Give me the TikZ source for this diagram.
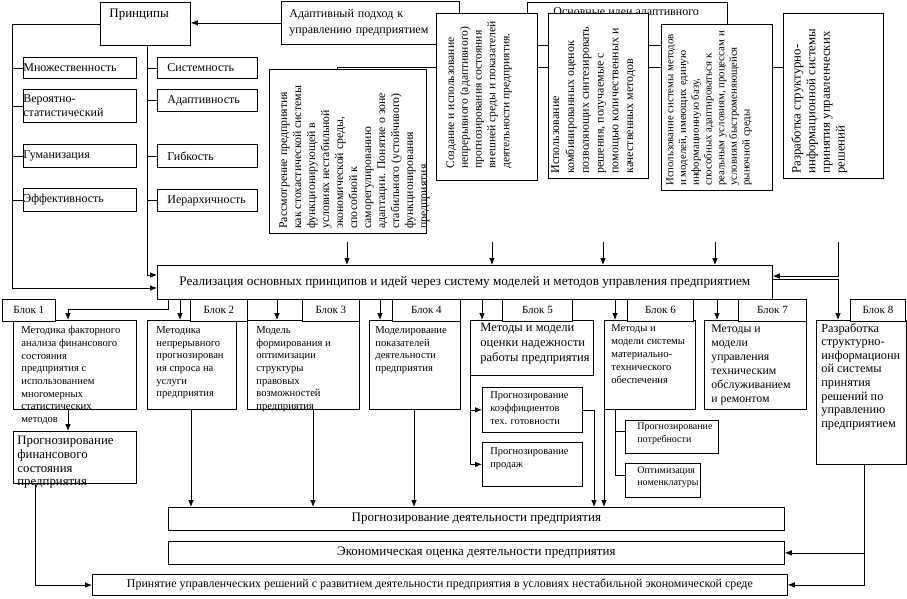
\documentclass[tikz,border=0pt]{standalone}
\usepackage{fontspec}
\setmainfont{Liberation Serif}
\usetikzlibrary{arrows.meta,positioning,backgrounds}

\begin{document}
\begin{tikzpicture}[x=1pt,y=-1pt,line width=0.75pt,>={Latex[length=7pt,width=5.5pt]},
	box/.style={draw,fill=white,inner sep=0pt,anchor=north west},
	sz/.style 2 args={minimum width=#1pt,minimum height=#2pt},
	txt/.style={anchor=north west,align=left,inner sep=0pt},
	vtxt/.style={rotate=90,anchor=north west,align=left,inner sep=0pt},
	lp/.style={box,sz={113}{#1},text width=113pt,align=left,font=\fontsize{12}{14}\selectfont},
	rp/.style={box,sz={100}{#1},text width=80pt,inner xsep=10pt,align=left,font=\fontsize{12}{14}\selectfont},
	lbl/.style={box,sz={#1}{22},font=\fontsize{11}{13}\selectfont},
	wide/.style={box,sz={#1}{23},font=\fontsize{13}{15}\selectfont}]
	\useasboundingbox (0,0) rectangle (907,598);

	% principles
	\node[box,sz={90}{43}] (prin) at (100,2) {};
	\node[txt,font=\fontsize{13}{15}\selectfont] (print) at (109,9) {Принципы};
	\node[lp=21] (mnozh) at (23,57) {Множественность};
	\node[lp=33] (ver) at (23,89) {Вероятно-\\статистический};
	\node[lp=23] (gum) at (23,144) {Гуманизация};
	\node[lp=23] (eff) at (23,188) {Эффективность};
	\node[rp=21] (sist) at (157,57) {Системность};
	\node[rp=22] (adpt) at (157,89) {Адаптивность};
	\node[rp=23] (gib) at (157,144) {Гибкость};
	\node[rp=22] (ier) at (157,189) {Иерархичность};

	% adaptive approach and main ideas
	\node[box,sz={178}{43},text width=162pt,inner xsep=8pt,align=left,
	font=\fontsize{12}{16}\selectfont] (adapt) at (281,1) {Адаптивный подход к\\управлению предприятием};
	\node[box,sz={200}{43}] (osn) at (527,2) {};
	\node[txt,font=\fontsize{12}{14}\selectfont] (osnt) at (553,7) {Основные идеи адаптивного};

	\node[box,sz={157}{164}] (rassm) at (269,69) {};
	\node[vtxt,font=\fontsize{11.8}{14}\selectfont] (rassmt) at (279,229)
	{Рассмотрение предприятия\\как стохастической системы\\функционирующей в\\условиях нестабильной\\экономической среды,\\способной к\\саморегулированию\\адаптации. Понятие о зоне\\стабильного (устойчивого)\\функционирования\\предприятия.};
	\node[box,sz={101}{167}] (sozd) at (436,13) {};
	\node[vtxt,font=\fontsize{11.6}{13.8}\selectfont] (sozdt) at (446,169)
	{Создание и использование\\непрерывного (адаптивного)\\прогнозирования состояния\\внешней среды и показателей\\деятельности предприятия.};
	\node[box,sz={100}{165}] (komb) at (548,13) {};
	\node[vtxt,font=\fontsize{12}{14.8}\selectfont] (kombt) at (551,174)
	{Использование\\комбинированных оценок\\позволяющих синтезировать\\решения, получаемые с\\помощью количественных и\\качественных методов};
	\node[box,sz={111}{166}] (metod) at (661,24) {};
	\node[vtxt,font=\fontsize{10.8}{12.7}\selectfont] (metodt) at (666,186)
	{Использование системы методов\\и моделей, имеющих единую\\информационную базу,\\способных адаптироваться к\\реальным условиям, процессам и\\условиям быстроменяющейся\\рыночной среды};
	\node[box,sz={100}{165}] (razr) at (783,13) {};
	\node[vtxt,font=\fontsize{12.8}{14.7}\selectfont] (razrt) at (791,174)
	{Разработка структурно-\\информационной системы\\принятия управленческих\\решений};

	% realisation
	\node[box,sz={615}{34},font=\fontsize{13.2}{15}\selectfont] (real) at (157,265)
	{Реализация основных принципов и идей через систему моделей и методов управления предприятием};

	% blocks
	\node[box,sz={123}{89}] (blk1) at (13,320) {};
	\node[txt,font=\fontsize{10.6}{12.7}\selectfont] (blk1t) at (21,326)
	{Методика факторного\\анализа финансового\\состояния\\предприятия с\\использованием\\многомерных\\статистических\\методов};
	\node[box,sz={89}{89}] (blk2) at (147,320) {};
	\node[txt,font=\fontsize{10.6}{12.7}\selectfont] (blk2t) at (156,326)
	{Методика\\непрерывного\\прогнозирован\\ия спроса на\\услуги\\предприятия};
	\node[box,sz={112}{89}] (blk3) at (247,320) {};
	\node[txt,font=\fontsize{10.6}{12.7}\selectfont] (blk3t) at (256,326)
	{Модель\\формирования и\\оптимизации\\структуры\\правовых\\возможностей\\предприятия};
	\node[box,sz={91}{89}] (blk4) at (369,320) {};
	\node[txt,font=\fontsize{10.6}{12.7}\selectfont] (blk4t) at (375,326)
	{Моделирование\\показателей\\деятельности\\предприятия};
	\node[box,sz={123}{55}] (blk5) at (470,320) {};
	\node[txt,font=\fontsize{12.5}{15}\selectfont] (blk5t) at (480,323)
	{Методы и модели\\оценки надежности\\работы предприятия};
	\node[box,sz={91}{89}] (blk6) at (604,320) {};
	\node[txt,font=\fontsize{10.6}{13}\selectfont] (blk6t) at (611,324)
	{Методы и\\модели системы\\материально-\\технического\\обеспечения};
	\node[box,sz={102}{89}] (blk7) at (704,320) {};
	\node[txt,font=\fontsize{11.8}{14}\selectfont] (blk7t) at (711,324)
	{Методы и\\модели\\управления\\техническим\\обслуживанием\\и ремонтом};
	\node[box,sz={90}{144}] (blk8) at (816,320) {};
	\node[txt,font=\fontsize{12.3}{13.6}\selectfont] (blk8t) at (821,323)
	{Разработка\\структурно-\\информационн\\ой системы\\принятия\\решений по\\управлению\\предприятием};

	\node[lbl=53] (lab1) at (2,299) {Блок 1};
	\node[lbl=57] (lab2) at (190,299) {Блок 2};
	\node[lbl=57] (lab3) at (302,299) {Блок 3};
	\node[lbl=68] (lab4) at (392,299) {Блок 4};
	\node[lbl=70] (lab5) at (502,299) {Блок 5};
	\node[lbl=66] (lab6) at (627,299) {Блок 6};
	\node[lbl=68] (lab7) at (738,299) {Блок 7};
	\node[lbl=55] (lab8) at (850,299) {Блок 8};

	% sub-boxes
	\node[box,sz={123}{52}] (fin) at (13,431) {};
	\node[txt,font=\fontsize{12.8}{13.7}\selectfont] (fint) at (17,436)
	{Прогнозирование\\финансового\\состояния\\предприятия};
	\node[box,sz={100}{45}] (coef) at (482,387) {};
	\node[txt,font=\fontsize{10.4}{13}\selectfont] (coeft) at (490,391)
	{Прогнозирование\\коэффициентов\\тех. готовности};
	\node[box,sz={100}{44}] (sales) at (482,442) {};
	\node[txt,font=\fontsize{10.4}{13}\selectfont] (salest) at (490,447)
	{Прогнозирование\\продаж};
	\node[box,sz={93}{33}] (need) at (625,420) {};
	\node[txt,font=\fontsize{10}{12.5}\selectfont] (needt) at (637,423)
	{Прогнозирование\\потребности};
	\node[box,sz={75}{34}] (opt) at (625,463) {};
	\node[txt,font=\fontsize{10}{12.5}\selectfont] (optt) at (637,466)
	{Оптимизация\\номенклатуры};

	% results
	\node[wide=616] (prog) at (168,507) {Прогнозирование деятельности предприятия};
	\node[wide=616] (econ) at (168,541) {Экономическая оценка деятельности предприятия};
	\node[box,sz={695}{21},font=\fontsize{11.9}{14}\selectfont] (dec) at (92,574)
	{Принятие управленческих решений с развитием деятельности предприятия в условиях нестабильной экономической среде};

	% helper points
	\coordinate (lt) at (12,288);
	\coordinate (mt) at (147,275);
	\coordinate (bus) at (337,67);
	\coordinate (d1) at (347,242);
	\coordinate (d2) at (492,242);
	\coordinate (d3) at (603,242);
	\coordinate (d4) at (715,242);
	\coordinate (rt) at (838,242);
	\coordinate (rin) at (838,276);
	\coordinate (rout) at (838,279);
	\coordinate (k1) at (168,309);
	\coordinate (k1b) at (68,309);
	\coordinate (a2) at (180,0);
	\coordinate (a3) at (277,0);
	\coordinate (a4) at (380,0);
	\coordinate (a5) at (482,0);
	\coordinate (a6) at (615,0);
	\coordinate (a7) at (717,0);
	\coordinate (p2) at (191,0);
	\coordinate (p3) at (313,0);
	\coordinate (p4) at (414,0);
	\coordinate (c5) at (594,0);
	\coordinate (fl) at (35,585);
	\coordinate (r8) at (864,0);
	\coordinate (t6a) at (0,431);
	\coordinate (t6b) at (0,475);

	\begin{scope}[on background layer]
		\draw (bus) -- (bus -| razr.west);
		\draw (bus) -- (bus |- rassm.north);
	\end{scope}

	% connectors
	\draw[->] (adapt.west) -- (adapt.west -| prin.east);
	\draw[->] (prin.west) -| (lt) -- (lt -| real.west);
	\draw[->] (prin.south -| mt) -- (mt) -- (mt -| real.west);
	\draw (lt |- mnozh.west) -- (mnozh.west);
	\draw (lt |- ver.west) -- (ver.west);
	\draw (lt |- gum.west) -- (gum.west);
	\draw (lt |- eff.west) -- (eff.west);
	\draw (mt |- sist.west) -- (sist.west);
	\draw (mt |- adpt.west) -- (adpt.west);
	\draw (mt |- gib.west) -- (gib.west);
	\draw (mt |- ier.west) -- (ier.west);

	\draw[->] (d1) -- (d1 |- real.north);
	\draw[->] (d2) -- (d2 |- real.north);
	\draw[->] (d3) -- (d3 |- real.north);
	\draw[->] (d4) -- (d4 |- real.north);
	\draw[->] (rt) -- (rin) -- (rin -| real.east);
	\draw[->] (rout -| real.east) -- (rout) -- (rout |- blk8.north);

	\draw[->] (real.south -| k1) -- (k1) -- (k1b) -- (k1b |- blk1.north);
	\draw[->] (real.south -| a2) -- (blk2.north -| a2);
	\draw[->] (real.south -| a3) -- (blk3.north -| a3);
	\draw[->] (real.south -| a4) -- (blk4.north -| a4);
	\draw[->] (real.south -| a5) -- (blk5.north -| a5);
	\draw[->] (real.south -| a6) -- (blk6.north -| a6);
	\draw[->] (real.south -| a7) -- (blk7.north -| a7);

	\draw[->] (blk1.south -| k1b) -- (fin.north -| k1b);
	\draw[->] (fin.south -| fl) -- (fl) -- (fl -| dec.west);
	\draw[->] (blk2.south -| p2) -- (prog.north -| p2);
	\draw[->] (blk3.south -| p3) -- (prog.north -| p3);
	\draw[->] (blk4.south -| p4) -- (prog.north -| p4);
	\draw[->] (blk5.south west |- coef.west) -- (coef.west);
	\draw[->] (blk5.south west) |- (sales.west);
	\draw[->] (coef.east) -| (prog.north -| c5);
	\draw[->] (blk6.south west) -- (blk6.south west |- prog.north);
	\draw (blk6.south -| a6) -- (a6 |- t6b) -- (t6b -| opt.west);
	\draw (a6 |- t6a) -- (t6a -| need.west);
	\draw[->] (blk8.south -| r8) |- (dec.east);
	\draw[->] (econ.east -| r8) -- (econ.east);
\end{tikzpicture}
\end{document}
